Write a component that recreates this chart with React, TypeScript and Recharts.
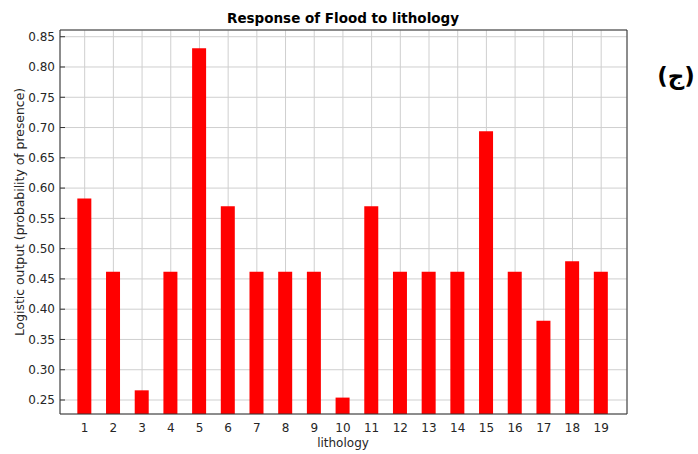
import React from 'react';
import { BarChart, Bar, XAxis, YAxis, CartesianGrid } from 'recharts';

const categories = [1, 2, 3, 4, 5, 6, 7, 8, 9, 10, 11, 12, 13, 14, 15, 16, 17, 18, 19];
const values = [0.583, 0.462, 0.266, 0.462, 0.831, 0.570, 0.462, 0.462, 0.462, 0.254, 0.570, 0.462, 0.462, 0.462, 0.694, 0.462, 0.381, 0.479, 0.462];
const yTicks = [0.25, 0.3, 0.35, 0.4, 0.45, 0.5, 0.55, 0.6, 0.65, 0.7, 0.75, 0.8, 0.85];
const xDomain = [0.14, 19.9];
const yDomain = [0.2269, 0.8611];

const title = 'Response of Flood to lithology';
const xLabel = 'lithology';
const yLabel = 'Logistic output (probability of presence)';
const panelTag = '(ج)';

const data = categories.map((c, i) => ({ lithology: c, value: values[i] }));

const FONT = '"DejaVu Sans", sans-serif';
const AXIS = '#333333';
const tickStyle = { fontFamily: FONT, fontSize: 12, fill: '#262626' };

export default function App() {
  return (
    <div style={{ position: 'absolute', left: 0, top: 0, width: 698, height: 454, background: '#ffffff' }}>
      <BarChart width={698} height={454} data={data} margin={{ top: 29, right: 70, bottom: 0, left: 0 }}>
        <CartesianGrid stroke="#cfcfcf" strokeWidth={1} />
        <XAxis
          dataKey="lithology"
          type="number"
          domain={xDomain}
          allowDataOverflow
          ticks={categories}
          interval={0}
          height={40}
          tickSize={-5}
          tickMargin={14}
          tickLine={false}
          stroke={AXIS}
          tick={tickStyle}
        />
        <XAxis
          xAxisId="top"
          dataKey="lithology"
          orientation="top"
          type="number"
          domain={xDomain}
          allowDataOverflow
          ticks={categories}
          interval={0}
          height={1}
          tickSize={-5}
          tick={false}
          stroke={AXIS}
        />
        <YAxis
          type="number"
          domain={yDomain}
          allowDataOverflow
          ticks={yTicks}
          interval={0}
          width={60}
          tickSize={-5}
          tickMargin={10}
          stroke={AXIS}
          tick={tickStyle}
          tickFormatter={(v: number) => v.toFixed(2)}
        />
        <YAxis
          yAxisId="right"
          orientation="right"
          type="number"
          domain={yDomain}
          allowDataOverflow
          ticks={yTicks}
          interval={0}
          width={1}
          tickSize={-5}
          tick={false}
          stroke={AXIS}
        />
        <Bar dataKey="value" fill="#ff0000" barSize={14} isAnimationActive={false} />
      </BarChart>
      <svg
        width={698}
        height={454}
        style={{ position: 'absolute', left: 0, top: 0, pointerEvents: 'none' }}
      >
        <text x={343} y={22.5} textAnchor="middle" fontFamily={FONT} fontWeight="bold" fontSize={13.5} fill="#000">
          {title}
        </text>
        <text x={343} y={447} textAnchor="middle" fontFamily={FONT} fontSize={12} fill="#262626">
          {xLabel}
        </text>
        <text
          x={24}
          y={212}
          textAnchor="middle"
          fontFamily={FONT}
          fontSize={12.4}
          fill="#262626"
          transform="rotate(-90, 24, 212)"
        >
          {yLabel}
        </text>
        <text x={676} y={84} textAnchor="middle" fontFamily={FONT} fontWeight="bold" fontSize={23} fill="#000">
          {panelTag}
        </text>
      </svg>
    </div>
  );
}
